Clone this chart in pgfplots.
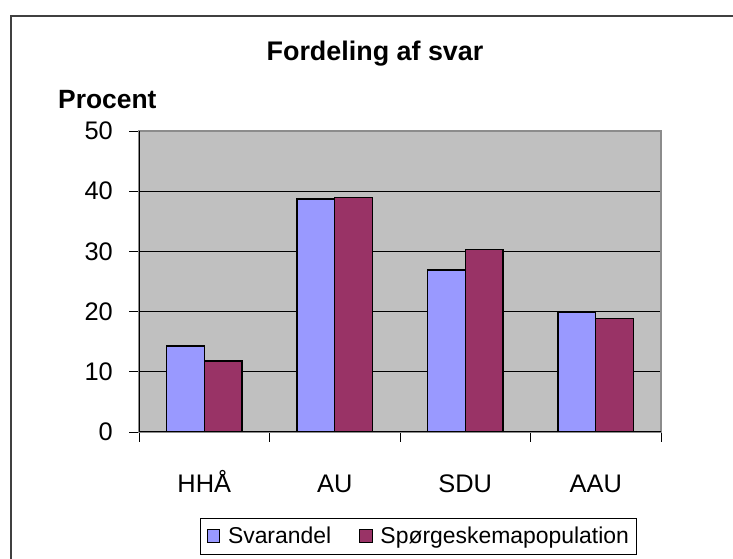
\documentclass[border=0pt]{standalone}
\usepackage{fontspec}
\setmainfont{Liberation Sans}
\usepackage{pgfplots}
\pgfplotsset{compat=1.18}
\definecolor{cblue}{HTML}{9999FF}
\definecolor{cred}{HTML}{993366}
\definecolor{cbg}{HTML}{C0C0C0}
\begin{document}
\begin{tikzpicture}[x=1bp,y=1bp]
\useasboundingbox (0,0) rectangle (733,559);
\draw[line width=1.5bp, black!75] (11,-20) -- (11,543) -- (760,543);
\node[font=\bfseries\fontsize{27}{31}\selectfont, anchor=base] at (375,498) {Fordeling af svar};
\node[font=\bfseries\fontsize{26.5}{30}\selectfont, anchor=base west, inner sep=0pt] at (58,450) {Procent};
\begin{axis}[
  at={(139bp,127bp)}, anchor=south west,
  width=522bp, height=301bp, scale only axis,
  xmin=0.5, xmax=4.5, ymin=0, ymax=50,
  axis background/.style={fill=cbg},
  axis line style={draw=gray!90, line width=1.5bp},
  ytick={0,10,20,30,40,50},
  xtick={1,2,3,4},
  xticklabels={HHÅ,AU,SDU,AAU},
  minor xtick={0.5,1.5,2.5,3.5,4.5},
  tick pos=left,
  tick align=outside,
  major tick length=10bp,
  minor tick length=10bp,
  x tick style={draw=none},
  minor x tick style={draw=black, line width=0.8bp},
  y tick style={draw=black, line width=0.8bp},
  ymajorgrids,
  grid style={draw=black, line width=0.9bp},
  /pgf/number format/assume math mode=true,
  ticklabel style={font=\fontsize{25.5}{30}\selectfont},
  yticklabel style={anchor=east, inner sep=0pt, xshift=-16bp},
  xticklabel style={anchor=base, inner sep=0pt, yshift=-51bp},
  legend columns=2,
  legend style={at={(0.536,-0.3455)}, anchor=center, draw=black, line width=0.8bp,
    font=\fontsize{23}{27}\selectfont,
    /tikz/every odd column/.append style={column sep=6bp},
    /tikz/every even column/.append style={column sep=26bp},
    inner xsep=6bp, inner ysep=7bp},
  legend image code/.code={\draw[#1, line width=0.8bp] (0bp,-6.5bp) rectangle (12.5bp,6.5bp);},
]
\addplot[ybar, bar width=37.7bp, bar shift=-18.85bp, fill=cblue, draw=black, line width=1.3bp]
  coordinates {(1,14.3) (2,38.7) (3,26.9) (4,19.9)};
\addlegendentry{Svarandel}
\addplot[ybar, bar width=37.7bp, bar shift=18.85bp, fill=cred, draw=black, line width=1.3bp]
  coordinates {(1,11.8) (2,39.0) (3,30.3) (4,18.8)};
\addlegendentry{Spørgeskemapopulation}
\draw[black, line width=1.2bp] (rel axis cs:0,1) -- (rel axis cs:0,0) -- (rel axis cs:1,0);
\end{axis}
\end{tikzpicture}
\end{document}
